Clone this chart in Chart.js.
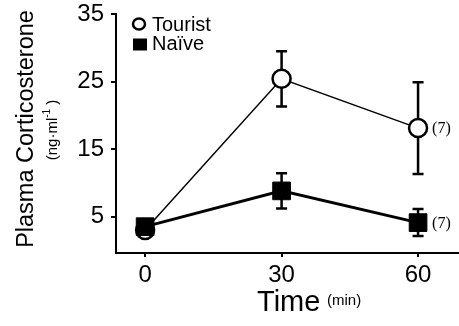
<!DOCTYPE html>
<html><head><meta charset="utf-8">
<script src="https://cdn.jsdelivr.net/npm/chart.js@4"></script>
<style>html,body{margin:0;padding:0;background:#fff}#wrap{width:459px;height:326px;position:relative}</style>
</head><body><div id="wrap"><canvas id="c" width="459" height="326"></canvas></div>
<script>
const timePoints = [0, 30, 60];
const xTickLabels = ['0', '30', '60'];
const yTickValues = [5, 15, 25, 35];
const seriesNames = ['Tourist', 'Naïve'];
const touristMean = [3.0, 25.4, 18.1];
const touristSem = [0.5, 4.1, 6.8];
const naiveMean = [3.5, 8.8, 4.1];
const naiveSem = [0.5, 2.6, 2.0];
const nLabels = ['', '', '(7)'];
const yTitle = 'Plasma Corticosterone';
const yUnit = ['(ng·ml', '-1', ')'];
const xTitle = 'Time';
const xUnit = '(min)';

const SANS = '"Liberation Sans", Arial, Helvetica, sans-serif';
const SERIF = '"Liberation Serif", "Times New Roman", serif';

function pts(means) { return timePoints.map((t, i) => ({x: t, y: means[i]})); }

const errorBars = {
  id: 'errorBars',
  beforeDatasetsDraw(chart) {
    const ctx = chart.ctx, xs = chart.scales.x, ys = chart.scales.y;
    const sets = [[touristMean, touristSem], [naiveMean, naiveSem]];
    ctx.save();
    ctx.strokeStyle = '#000';
    ctx.lineWidth = 2.5;
    sets.forEach(([m, e]) => {
      timePoints.forEach((t, i) => {
        const x = xs.getPixelForValue(t);
        const yt = ys.getPixelForValue(m[i] + e[i]);
        const yb = ys.getPixelForValue(m[i] - e[i]);
        ctx.beginPath();
        ctx.moveTo(x, yt); ctx.lineTo(x, yb);
        ctx.moveTo(x - 5.5, yt); ctx.lineTo(x + 5.5, yt);
        ctx.moveTo(x - 5.5, yb); ctx.lineTo(x + 5.5, yb);
        ctx.stroke();
      });
    });
    ctx.restore();
  }
};

const annotations = {
  id: 'annotations',
  afterDraw(chart) {
    const ctx = chart.ctx, xs = chart.scales.x, ys = chart.scales.y;
    ctx.save();
    ctx.fillStyle = '#000';
    ctx.font = '16px ' + SERIF;
    ctx.textBaseline = 'middle';
    ctx.textAlign = 'left';
    [touristMean, naiveMean].forEach(m => {
      timePoints.forEach((t, i) => {
        if (!nLabels[i]) return;
        ctx.fillText(nLabels[i], xs.getPixelForValue(t) + 14, ys.getPixelForValue(m[i]) + 1);
      });
    });
    // legend
    ctx.font = '20px ' + SANS;
    ctx.textBaseline = 'alphabetic';
    ctx.beginPath();
    ctx.ellipse(139, 24, 6, 5.5, 0, 0, Math.PI * 2);
    ctx.lineWidth = 2.5; ctx.strokeStyle = '#000';
    ctx.stroke();
    ctx.fillText(seriesNames[0], 152, 31);
    ctx.fillRect(133, 38.5, 14, 12);
    ctx.fillText(seriesNames[1], 152, 50);
    // x title
    ctx.font = '29px ' + SANS;
    ctx.fillText(xTitle, 257, 311);
    ctx.font = '15px ' + SANS;
    ctx.fillText(xUnit, 327, 305);
    // y title
    ctx.save();
    ctx.translate(33, 129);
    ctx.rotate(-Math.PI / 2);
    ctx.font = '23.5px ' + SANS;
    ctx.textAlign = 'center';
    ctx.fillText(yTitle, 0, 0);
    ctx.restore();
    // y unit
    ctx.save();
    ctx.translate(57, 130);
    ctx.rotate(-Math.PI / 2);
    ctx.font = '15px ' + SANS;
    const w0 = ctx.measureText(yUnit[0]).width;
    ctx.font = '10px ' + SANS;
    const w1 = ctx.measureText(yUnit[1]).width;
    ctx.font = '15px ' + SANS;
    const w2 = ctx.measureText(' ' + yUnit[2]).width;
    let x0 = -(w0 + w1 + w2) / 2;
    ctx.textAlign = 'left';
    ctx.fillText(yUnit[0], x0, 0);
    ctx.font = '10px ' + SANS;
    ctx.fillText(yUnit[1], x0 + w0, -7);
    ctx.font = '15px ' + SANS;
    ctx.fillText(' ' + yUnit[2], x0 + w0 + w1, 0);
    ctx.restore();
    ctx.restore();
  }
};

new Chart(document.getElementById('c'), {
  type: 'scatter',
  data: {
    datasets: [
      {
        label: seriesNames[0], data: pts(touristMean), showLine: true,
        borderColor: '#000', borderWidth: 1.5, order: 1, clip: false,
        pointStyle: 'circle', pointRadius: 9, pointBorderWidth: 2.5,
        pointBackgroundColor: '#fff', pointBorderColor: '#000'
      },
      {
        label: seriesNames[1], data: pts(naiveMean), showLine: true,
        borderColor: '#000', borderWidth: 3, order: 0, clip: false,
        pointStyle: 'rect', pointRadius: 12.5, pointBorderWidth: 1,
        pointBackgroundColor: '#000', pointBorderColor: '#000'
      }
    ]
  },
  options: {
    responsive: false, animation: false, devicePixelRatio: 1,
    layout: {autoPadding: false, padding: {top: 14, left: 0, right: 0, bottom: 0}},
    plugins: {legend: {display: false}, tooltip: {enabled: false}},
    scales: {
      x: {
        type: 'linear', min: -6.4, max: 69,
        afterBuildTicks: s => { s.ticks = timePoints.map(v => ({value: v})); },
        afterFit: s => { s.height = 73; s.paddingLeft = 0; s.paddingRight = 0; },
        ticks: {
          callback: (v, i) => xTickLabels[i], color: '#000', padding: 4,
          font: {size: 24, family: SANS}, maxRotation: 0, autoSkip: false
        },
        grid: {drawOnChartArea: false, drawTicks: true, tickLength: 4, color: '#000', lineWidth: 2},
        border: {display: true, color: '#000', width: 2}
      },
      y: {
        min: -0.4, max: 35,
        afterBuildTicks: s => { s.ticks = yTickValues.map(v => ({value: v})); },
        afterFit: s => { s.width = 116; s.paddingTop = 0; s.paddingBottom = 0; },
        ticks: {
          callback: v => String(v), color: '#000', padding: 7,
          font: {size: 24, family: SANS}, autoSkip: false
        },
        grid: {drawOnChartArea: false, drawTicks: true, tickLength: 5, color: '#000', lineWidth: 2},
        border: {display: true, color: '#000', width: 2}
      }
    }
  },
  plugins: [errorBars, annotations]
});
</script></body></html>
